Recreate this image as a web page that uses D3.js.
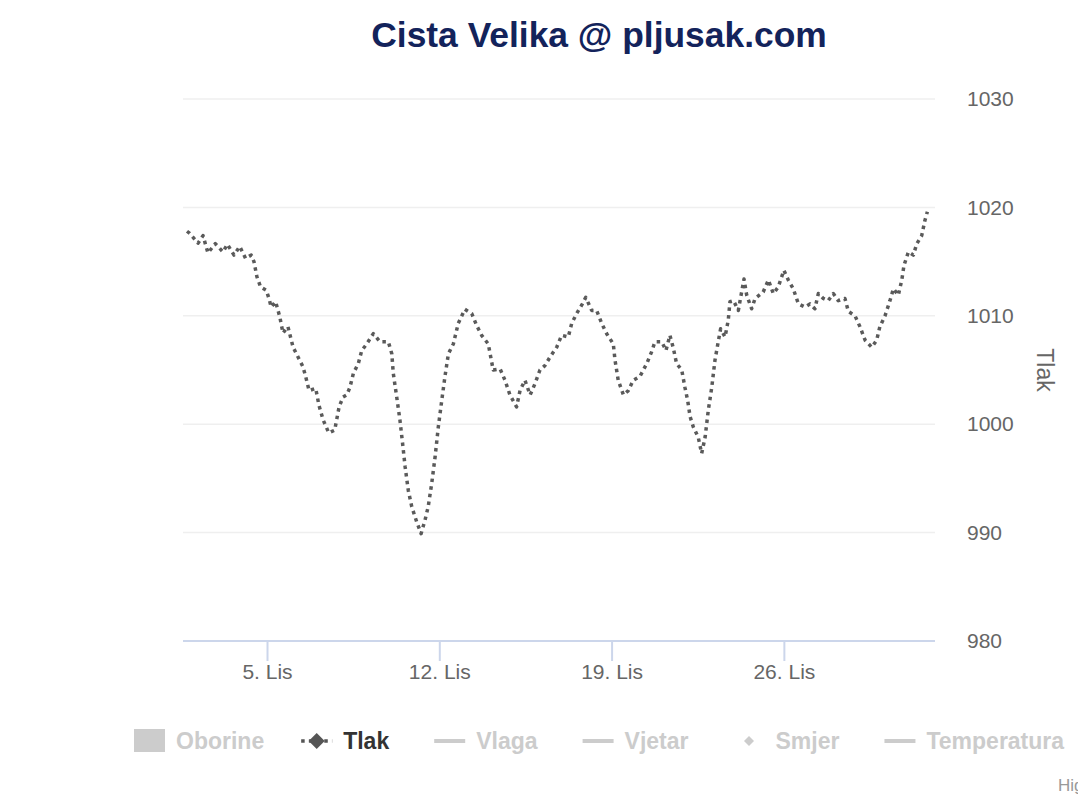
<!DOCTYPE html>
<html><head><meta charset="utf-8">
<script src="https://cdn.jsdelivr.net/npm/d3@7"></script>
<style>
body{margin:0;background:#fff}
svg{display:block;font-family:"Liberation Sans",Arial,Helvetica,sans-serif}
</style>
</head><body>
<svg id="chart" width="1078" height="800"></svg>
<script>
// ---------------- data ----------------
const titleText = "Cista Velika @ pljusak.com";
const yAxisTitle = "Tlak";
const creditsText = "Highcharts.com";
const monthNames = ["Sij","Velj","Ožu","Tra","Svi","Lip","Srp","Kol","Ruj","Lis","Stu","Pro"];
const yTicks = [980, 990, 1000, 1010, 1020, 1030];

// time of each reading, as decimal day of October 2020 (1.5 = Oct 1, 12:00)
const dayOfOctober = [
 1.75,1.86,2.20,2.40,2.60,2.90,3.21,3.39,3.66,3.89,4.13,4.36,4.47,4.59,4.74,4.97,
 5.08,5.17,5.35,5.52,5.65,5.85,6.06,6.26,6.46,6.57,6.71,6.98,7.11,7.28,7.51,7.75,
 7.93,8.09,8.24,8.37,8.51,8.71,8.85,9.05,9.32,9.59,9.93,10.07,10.13,10.27,10.40,10.51,
 10.61,10.74,10.88,11.08,11.26,11.42,11.55,11.69,11.83,11.96,12.10,12.23,12.37,12.57,12.77,13.04,
 13.32,13.52,13.72,13.99,14.19,14.47,14.67,14.87,15.14,15.28,15.48,15.69,15.89,16.09,16.29,16.50,
 16.77,16.97,17.24,17.38,17.58,17.79,17.95,18.19,18.39,18.60,18.80,19.07,19.14,19.27,19.48,19.68,
 19.88,20.15,20.43,20.63,20.76,21.04,21.21,21.37,21.51,21.64,21.85,21.98,22.09,22.19,22.32,22.52,
 22.66,22.80,22.93,23.07,23.20,23.34,23.43,23.61,23.74,23.81,23.95,24.15,24.38,24.49,24.69,24.83,
 25.16,25.37,25.57,25.77,26.00,26.18,26.38,26.59,26.86,27.06,27.26,27.40,27.60,27.80,28.01,28.21,
 28.48,28.62,28.89,29.09,29.30,29.57,29.77,29.90,30.11,30.31,30.45,30.65,30.79,30.88,31.06,31.26,
 31.40,31.60,31.73,31.83
];
// air pressure (hPa)
const pressure = [
 1017.8,1017.6,1016.7,1017.4,1015.8,1016.65,1015.9,1016.6,1015.6,1016.4,1015.3,1015.6,1015.0,1013.6,1012.65,1012.35,
 1011.6,1010.8,1011.3,1009.9,1008.4,1009.0,1007.1,1006.2,1005.3,1004.4,1003.1,1003.3,1001.75,1000.4,999.2,999.45,
 1001.6,1002.5,1002.7,1003.4,1004.7,1005.6,1006.8,1007.4,1008.35,1007.6,1007.6,1006.5,1004.7,1002.5,1000.4,998.2,
 996.1,993.9,992.4,991.0,989.9,991.15,992.4,994.5,997.0,999.75,1002.2,1004.4,1006.5,1007.4,1009.3,1010.6,
 1010.2,1009.1,1008.2,1007.4,1005.0,1005.1,1004.05,1002.7,1001.6,1003.1,1004.05,1002.7,1003.75,1005.0,1005.4,1006.2,
 1007.1,1008.2,1008.05,1009.3,1010.2,1011.0,1011.7,1010.5,1010.5,1009.3,1008.35,1007.4,1005.9,1004.05,1002.7,1003.1,
 1004.05,1004.4,1005.6,1006.7,1007.6,1007.6,1006.8,1008.2,1007.0,1005.6,1005.0,1003.4,1002.2,1000.7,999.75,998.8,
 997.3,998.8,1001.3,1003.4,1005.9,1007.7,1008.8,1008.05,1009.6,1011.3,1011.4,1010.5,1013.4,1011.9,1010.65,1011.6,
 1012.2,1013.3,1012.05,1012.65,1014.2,1013.3,1012.5,1011.1,1010.8,1011.1,1010.65,1012.05,1011.6,1011.4,1012.05,1011.4,
 1011.6,1010.4,1010.0,1009.0,1007.75,1007.1,1007.75,1009.0,1010.0,1011.4,1012.5,1011.9,1013.3,1014.65,1015.9,1015.6,
 1016.65,1017.4,1018.8,1019.6
];

const legendNames   = ["Oborine","Tlak","Vlaga","Vjetar","Smjer","Temperatura"];
const legendSymbols = ["rect","lineMarker","line","line","marker","line"];
const legendVisible = [false,true,false,false,false,false];

// ---------------- layout ----------------
const W = 1078, H = 800;
const plot = {left:183, right:935, top:99, bottom:641};
const DAY = 864e5;
const toDate = d => new Date(Date.UTC(2020, 9, 1) + (d - 1) * DAY);
const xStart = toDate(1.587), xEnd = toDate(32.14);

const svg = d3.select("#chart");
svg.append("rect").attr("width",W).attr("height",H).attr("fill","#fff");

const x = d3.scaleUtc().domain([xStart, xEnd]).range([plot.left, plot.right]);
const y = d3.scaleLinear().domain([yTicks[0], yTicks[yTicks.length-1]]).range([plot.bottom, plot.top]);

// title
svg.append("text").attr("x",599).attr("y",47).attr("text-anchor","middle")
  .attr("font-size",35.4).attr("font-weight","bold").attr("fill","#13235b").text(titleText);

// grid lines
svg.append("g").selectAll("line").data(yTicks.slice(1)).join("line")
  .attr("x1",plot.left).attr("x2",plot.right)
  .attr("y1",d=>y(d)).attr("y2",d=>y(d))
  .attr("stroke","#efefef").attr("stroke-width",1.5);

// y axis labels (right)
const yAxis = d3.axisRight(y).tickValues(yTicks).tickSize(0).tickPadding(0).tickFormat(d3.format("d"));
const gy = svg.append("g").attr("transform",`translate(967,0)`).call(yAxis);
gy.select(".domain").remove();
gy.selectAll("text").attr("font-size",21).attr("fill","#666").attr("font-family",null)
  .attr("x",0).attr("dy","0.32em");

// y axis title
svg.append("text").attr("transform",`translate(1037,${(plot.top+plot.bottom)/2}) rotate(90)`)
  .attr("text-anchor","middle").attr("font-size",23).attr("fill","#666").text(yAxisTitle);

// x axis
const xFmt = d => `${d.getUTCDate()}. ${monthNames[d.getUTCMonth()]}`;
const xAxis = d3.axisBottom(x).ticks(d3.utcMonday.every(1)).tickSize(20).tickPadding(3).tickFormat(xFmt);
const gx = svg.append("g").attr("transform",`translate(0,${plot.bottom})`).call(xAxis);
gx.select(".domain").attr("stroke","#ccd6eb").attr("stroke-width",2)
  .attr("d",`M${plot.left},0H${plot.right}`);
gx.selectAll(".tick line").attr("stroke","#ccd6eb").attr("stroke-width",2);
gx.selectAll("text").attr("font-size",21).attr("fill","#666").attr("font-family",null);

// pressure line
const series = dayOfOctober.map((d,i)=>({t:toDate(d), v:pressure[i]}));
const line = d3.line().x(d=>x(d.t)).y(d=>y(d.v));
svg.append("path").datum(series).attr("d",line)
  .attr("fill","none").attr("stroke","#5a5a5a").attr("stroke-width",3.5)
  .attr("stroke-dasharray","3.5,4.2").attr("stroke-linejoin","round");

// legend
const lg = svg.append("g");
let tx = 176;
const ly = 741;
legendNames.forEach((name,i)=>{
  const col = legendVisible[i] ? "#555" : "#ccc";
  const sx = tx - 42;
  const s = legendSymbols[i];
  if (s === "rect") {
    lg.append("rect").attr("x",sx).attr("y",ly-12).attr("width",31).attr("height",23).attr("fill",col);
  }
  if (s === "line" || s === "lineMarker") {
    lg.append("line").attr("x1",sx).attr("x2",sx+31).attr("y1",ly).attr("y2",ly)
      .attr("stroke",col).attr("stroke-width",s==="line"?4:3.5)
      .attr("stroke-dasharray", s==="lineMarker" ? "3.5,4.2" : null);
  }
  if (s === "lineMarker" || s === "marker") {
    const r = s === "marker" ? 5 : 8;
    const cx = sx + 15.5;
    lg.append("path").attr("d",`M${cx},${ly-r}L${cx+r},${ly}L${cx},${ly+r}L${cx-r},${ly}Z`).attr("fill",col);
  }
  const t = lg.append("text").attr("x",tx).attr("y",ly+8).attr("font-size",23).attr("font-weight","bold")
    .attr("fill", legendVisible[i] ? "#333" : "#ccc").text(name);
  tx += t.node().getComputedTextLength() + (s === "rect" ? 79 : 87);
});

// credits (cut off at the right edge, as in the original)
svg.append("text").attr("x",1058).attr("y",791).attr("font-size",17).attr("fill","#999").text(creditsText);
</script>
</body></html>
